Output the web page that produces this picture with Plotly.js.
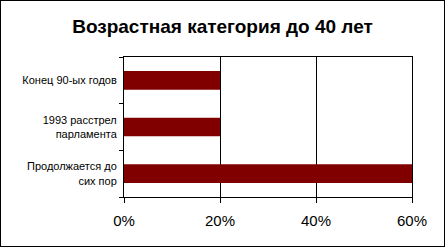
<!DOCTYPE html>
<html>
<head>
<meta charset="utf-8">
<script src="https://cdn.plot.ly/plotly-3.0.1.min.js"></script>
<style>
  html, body { margin: 0; padding: 0; background: #fff; }
  #wrap { position: relative; width: 445px; height: 248px; }
  #chart { width: 445px; height: 248px; }
  #frame { position: absolute; left: 0; top: 0; width: 443px; height: 245px; border: 1px solid #000; pointer-events: none; }
</style>
</head>
<body>
<div id="wrap">
  <div id="chart"></div>
  <div id="frame"></div>
</div>
<script>
const chartTitle = "Возрастная категория до 40 лет";
// categories listed bottom to top (Plotly's category order on a horizontal bar)
const categories = ["Продолжается до<br>сих пор", "1993 расстрел<br>парламента", "Конец 90-ых годов"];
const values = [0.6, 0.2, 0.2];
const tickValues = [0, 0.2, 0.4, 0.6];
const tickLabels = ["0%", "20%", "40%", "60%"];

const trace = {
  type: "bar",
  orientation: "h",
  y: categories,
  x: values,
  width: 0.4,
  marker: { color: "#800000", line: { width: 0 } },
  hoverinfo: "none"
};

const layout = {
  width: 445,
  height: 248,
  margin: { l: 124, r: 33, t: 57, b: 51, pad: 0 },
  paper_bgcolor: "#ffffff",
  plot_bgcolor: "#ffffff",
  showlegend: false,
  font: { family: "Liberation Sans, Arial, sans-serif", color: "#000" },
  title: {
    text: "<b>" + chartTitle + "</b>",
    font: { size: 19, family: "Liberation Sans, Arial, sans-serif", color: "#000" },
    x: 0.5, xanchor: "center",
    y: 0.895, yanchor: "middle", yref: "container"
  },
  xaxis: {
    range: [0, 0.6],
    tickvals: tickValues,
    ticktext: tickLabels,
    showgrid: true,
    gridcolor: "#000",
    gridwidth: 1,
    zeroline: false,
    showline: true,
    linecolor: "#000",
    linewidth: 1,
    mirror: true,
    ticks: "outside",
    ticklen: 5,
    tickcolor: "#000",
    ticklabelstandoff: 5,
    tickfont: { size: 15, family: "Liberation Sans, Arial, sans-serif" },
    fixedrange: true
  },
  yaxis: {
    type: "category",
    showgrid: false,
    zeroline: false,
    showline: true,
    linecolor: "#000",
    linewidth: 1,
    mirror: true,
    ticks: "outside",
    tickson: "boundaries",
    ticklen: 4,
    tickcolor: "#000",
    tickfont: { size: 11, family: "Liberation Sans, Arial, sans-serif" },
    ticklabelstandoff: 4,
    fixedrange: true
  },
  bargap: 0.6
};

Plotly.newPlot("chart", [trace], layout, { displayModeBar: false, staticPlot: true });
</script>
</body>
</html>
